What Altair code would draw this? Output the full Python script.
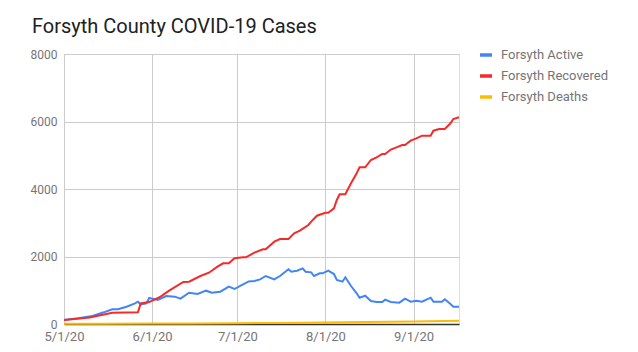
import altair as alt
import pandas as pd

title_text = "Forsyth County COVID-19 Cases"

active_dates = ["2020-05-01","2020-05-06","2020-05-11","2020-05-15","2020-05-18","2020-05-20","2020-05-23",
    "2020-05-26","2020-05-27","2020-05-28","2020-05-30","2020-05-31","2020-06-03","2020-06-06","2020-06-09",
    "2020-06-11","2020-06-14","2020-06-17","2020-06-20","2020-06-22","2020-06-25","2020-06-28","2020-06-30",
    "2020-07-02","2020-07-05","2020-07-07","2020-07-09","2020-07-11","2020-07-14","2020-07-16","2020-07-19",
    "2020-07-20","2020-07-22","2020-07-24","2020-07-25","2020-07-27","2020-07-28","2020-07-30","2020-07-31",
    "2020-08-02","2020-08-04","2020-08-05","2020-08-07","2020-08-08","2020-08-10","2020-08-12","2020-08-13",
    "2020-08-15","2020-08-17","2020-08-19","2020-08-21","2020-08-22","2020-08-24","2020-08-27","2020-08-29",
    "2020-08-31","2020-09-02","2020-09-04","2020-09-07","2020-09-08","2020-09-11","2020-09-12","2020-09-14",
    "2020-09-15","2020-09-17"]
active_vals = [120,170,237,346,435,440,513,612,661,583,612,770,715,830,810,750,928,889,987,928,958,1106,1037,
    1130,1260,1274,1323,1422,1323,1422,1620,1550,1580,1649,1550,1531,1422,1501,1501,1580,1481,1304,1254,1383,
    1126,909,780,839,681,652,652,721,652,632,750,662,691,662,780,662,662,731,593,513,513]

recovered_dates = ["2020-05-01","2020-05-10","2020-05-18","2020-05-27","2020-05-28","2020-05-31","2020-06-04",
    "2020-06-07","2020-06-12","2020-06-14","2020-06-18","2020-06-21","2020-06-24","2020-06-26","2020-06-28",
    "2020-06-30","2020-07-03","2020-07-04","2020-07-07","2020-07-10","2020-07-11","2020-07-14","2020-07-16",
    "2020-07-19","2020-07-21","2020-07-23","2020-07-26","2020-07-27","2020-07-29","2020-08-01","2020-08-02",
    "2020-08-04","2020-08-05","2020-08-06","2020-08-08","2020-08-10","2020-08-12","2020-08-13","2020-08-15",
    "2020-08-17","2020-08-19","2020-08-21","2020-08-22","2020-08-24","2020-08-26","2020-08-28","2020-08-29",
    "2020-08-31","2020-09-02","2020-09-04","2020-09-07","2020-09-08","2020-09-10","2020-09-12","2020-09-14",
    "2020-09-15","2020-09-17"]
recovered_vals = [120,190,335,350,610,650,810,990,1244,1254,1422,1520,1698,1798,1798,1946,1976,1976,2113,2213,
    2213,2439,2518,2518,2687,2765,2933,3032,3209,3298,3298,3427,3674,3842,3842,4168,4465,4643,4643,4859,4939,
    5037,5037,5170,5235,5304,5304,5432,5501,5580,5580,5728,5778,5778,5946,6074,6124]

deaths_dates = ["2020-05-01","2020-05-15","2020-06-01","2020-06-15","2020-07-01","2020-07-15","2020-08-01",
    "2020-08-15","2020-09-01","2020-09-17"]
deaths_vals = [5, 8, 12, 18, 25, 33, 45, 58, 75, 95]

series_names = ["Forsyth Active", "Forsyth Recovered", "Forsyth Deaths"]
series_colors = ["#4285f4", "#f52a2a", "#fbbc04"]
y_ticks = [0, 2000, 4000, 6000, 8000]

rows = []
for name, ds, vs in zip(series_names, [active_dates, recovered_dates, deaths_dates],
                        [active_vals, recovered_vals, deaths_vals]):
    for d, v in zip(ds, vs):
        rows.append({"date": d + "T00:00:00", "value": v, "series": name})
df = pd.DataFrame(rows)

month_ticks = [alt.DateTime(year=2020, month=m, date=1) for m in [5, 6, 7, 8, 9]]
font = "Roboto"

lines = alt.Chart(df).mark_line(strokeWidth=2, interpolate="linear").encode(
    x=alt.X("date:T", title=None,
            scale=alt.Scale(domain=[alt.DateTime(year=2020, month=5, date=1),
                                    alt.DateTime(year=2020, month=9, date=17)], nice=False),
            axis=alt.Axis(values=month_ticks, format="%-m/%-d/%y", labelFont=font, labelFontSize=13,
                          labelColor="#757575", ticks=False, domain=True, domainColor="#333333",
                          domainWidth=1.5, grid=True, gridColor="#cccccc", labelPadding=6,
                          labelFlush=False)),
    y=alt.Y("value:Q", title=None,
            scale=alt.Scale(domain=[0, 8000], nice=False),
            axis=alt.Axis(values=y_ticks, format="d", labelFont=font, labelFontSize=12,
                          labelColor="#757575", ticks=False, domain=False, grid=True,
                          gridColor="#cccccc", labelPadding=7)),
    color=alt.Color("series:N", sort=series_names,
                    scale=alt.Scale(domain=series_names, range=series_colors),
                    legend=alt.Legend(title=None, orient="none", legendX=414, legendY=-7,
                                      symbolType="stroke", symbolSize=144, symbolStrokeWidth=3.5,
                                      labelFont=font, labelFontSize=13, labelColor="#757575",
                                      rowPadding=6, labelOffset=7, padding=0)),
    order=alt.Order("date:T"),
)

title = alt.Chart(pd.DataFrame({"t": [title_text]})).mark_text(
    font=font, fontSize=20, color="#212121", align="left", baseline="alphabetic"
).encode(text="t:N", x=alt.value(-32), y=alt.value(-21))

chart = alt.layer(lines, title).properties(
    width=395, height=270,
    autosize=alt.AutoSizeParams(type="none"),
    padding={"left": 64, "top": 54, "right": 179, "bottom": 28},
).configure_view(stroke=None).configure(background="white")

chart.save("out.html", embed_options={"renderer": "svg", "actions": False})
